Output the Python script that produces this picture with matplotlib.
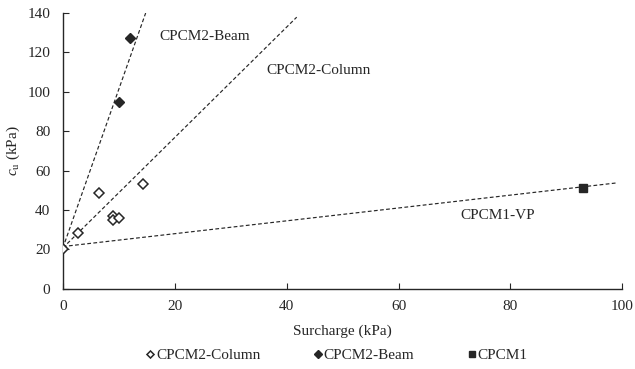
import numpy as np
import matplotlib.pyplot as plt

plt.rcParams['font.family'] = ['Liberation Serif', 'DejaVu Serif']
plt.rcParams['mathtext.fontset'] = 'custom'
plt.rcParams['mathtext.it'] = 'Liberation Serif:italic'
plt.rcParams['mathtext.rm'] = 'Liberation Serif'

# measured points
column_x = [0, 2.7, 6.4, 9.0, 9.0, 10.0, 14.4]
column_y = [20.3, 28.3, 48.9, 37.2, 35.0, 36.0, 53.1]
beam_x = [10.0, 12.0]
beam_y = [94.7, 127.2]
cpcm1_x = [93.0]
cpcm1_y = [51.1]

# prediction lines: intercept, slope, x end
line_names = ['CPCM2-Beam', 'CPCM2-Column', 'CPCM1-VP']
line_b = [20.8, 20.8, 21.5]
line_m = [8.05, 2.8, 0.326]
line_xmax = [14.8, 41.8, 99.0]
label_pos = [(17.3, 128), (36.3, 111), (71, 37)]

ink = '#262626'
fig, ax = plt.subplots(figsize=(6.35, 3.69), dpi=100)
fig.subplots_adjust(left=0.099, right=0.98, top=0.965, bottom=0.217)

for b, m, xe in zip(line_b, line_m, line_xmax):
    xs = np.array([0, xe])
    ax.plot(xs, b + m * xs, color=ink, lw=0.85, dashes=(3.2, 2), zorder=2)

ax.plot(column_x, column_y, 'D', ms=4.8, mfc='white', mec=ink, mew=1.1,
        ls='none', label='CPCM2-Column', zorder=3)
ax.plot(beam_x, beam_y, 'D', ms=5, color=ink, ls='none',
        label='CPCM2-Beam', zorder=3)
ax.plot(cpcm1_x, cpcm1_y, 's', ms=6, color=ink, ls='none',
        label='CPCM1', zorder=3)

for name, (tx, ty) in zip(line_names, label_pos):
    ax.text(tx, ty, name, fontsize=11, color=ink, va='center')

ax.set_xlim(0, 100)
ax.set_ylim(0, 140)
ax.set_xticks(range(0, 101, 20))
ax.set_yticks(range(0, 141, 20))
ax.tick_params(direction='in', length=4, width=0.8, colors=ink,
               labelsize=11)
ax.tick_params(axis='y', pad=9)
ax.tick_params(axis='x', pad=8)
for s in ['top', 'right']:
    ax.spines[s].set_visible(False)
for s in ['left', 'bottom']:
    ax.spines[s].set_color(ink)
    ax.spines[s].set_linewidth(1.0)

ax.set_xlabel('Surcharge (kPa)', fontsize=11, color=ink, labelpad=8)
ax.set_ylabel(r'$c_\mathrm{u}$ (kPa)', fontsize=11, color=ink, labelpad=4)

ax.legend(loc='upper center', bbox_to_anchor=(0.49, -0.165), ncol=3,
          frameon=False, fontsize=11, handlelength=0.5, handletextpad=0.15,
          columnspacing=3.5, labelcolor=ink, markerscale=0.75)

fig.savefig('out.png', dpi=100)
